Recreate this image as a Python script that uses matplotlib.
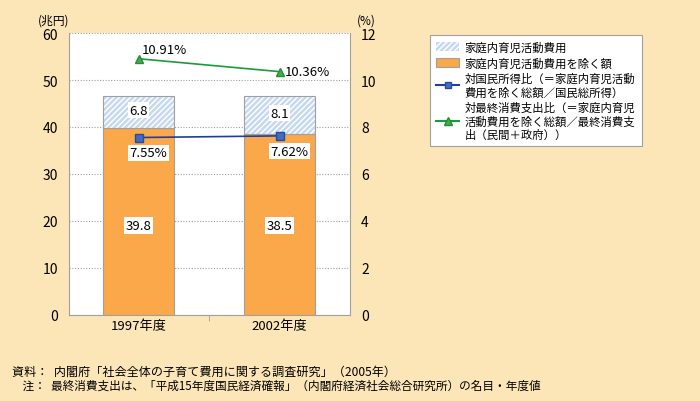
import numpy as np
import matplotlib.pyplot as plt
from matplotlib.patches import Patch
from matplotlib.lines import Line2D

plt.rcParams['font.family'] = ['Noto Sans CJK JP', 'DejaVu Sans']
plt.rcParams['hatch.linewidth'] = 1.0

# data
years = ['1997年度', '2002年度']
excl = [39.8, 38.5]        # 家庭内育児活動費用を除く額
home = [6.8, 8.1]          # 家庭内育児活動費用
ratio_ni = [7.55, 7.62]    # 対国民所得比
ratio_fc = [10.91, 10.36]  # 対最終消費支出比

bg = '#FCE6B8'
orange = '#FBA84A'
lblue = '#C6D9F0'
fig = plt.figure(figsize=(7, 4.02), dpi=100, facecolor=bg)
ax = fig.add_axes([0.0986, 0.215, 0.4014, 0.700])
ax.set_facecolor('white')

x = np.arange(len(years))
w = 0.5
ax.bar(x, excl, w, color=orange, edgecolor='#A0A0A0', linewidth=0.8, zorder=3)
ax.bar(x, home, w, bottom=excl, color=lblue, edgecolor='white', linewidth=0,
       hatch='//////', zorder=3)
ax.bar(x, home, w, bottom=excl, fill=False, edgecolor='#A0A0A0', linewidth=0.8, zorder=4)

box = dict(facecolor='white', edgecolor='none', pad=1.2)
for i in range(len(x)):
    ax.text(x[i], 19, f'{excl[i]}', ha='center', va='center', fontsize=9.5, bbox=box, zorder=6)
    ax.text(x[i], excl[i] + home[i] / 2 + 0.4, f'{home[i]}', ha='center', va='center',
            fontsize=9.5, bbox=box, zorder=6)

ax.set_xlim(-0.493, 1.5)
ax.set_ylim(0, 60)
ax.set_yticks(range(0, 61, 10))
ax.set_xticks(x)
ax.set_xticklabels(years, fontsize=9.5)
ax.set_xticks([0.5], minor=True)
ax.tick_params(axis='x', which='major', length=0, pad=3)
ax.tick_params(axis='x', which='minor', length=4, color='#A0A0A0')
ax.tick_params(axis='y', length=0, labelsize=10, pad=8)
ax.grid(axis='y', color='#A0A0A0', linestyle=(0, (1, 1.5)), linewidth=0.8, zorder=0)
for s in ['left', 'right', 'bottom']:
    ax.spines[s].set_color('#A0A0A0')
ax.spines['top'].set_visible(False)

ax2 = ax.twinx()
ax2.set_ylim(0, 12)
ax2.set_yticks(range(0, 13, 2))
ax2.tick_params(axis='y', length=0, labelsize=10, pad=8)
for s in ax2.spines.values():
    s.set_visible(False)
ax2.plot(x, ratio_ni, color='#1F3F9A', linewidth=1.2, marker='s', markersize=5.5,
         markerfacecolor='#3E6EC2', markeredgecolor='#2A4B9A', zorder=5)
ax2.plot(x, ratio_fc, color='#1E9A3C', linewidth=1.2, marker='^', markersize=6,
         markerfacecolor='#3CB04C', markeredgecolor='#2A8A3A', zorder=5)

ax2.text(x[0] + 0.02, ratio_fc[0] + 0.12, f'{ratio_fc[0]:.2f}%', ha='left', va='bottom', fontsize=9.5)
ax2.text(x[1] + 0.04, ratio_fc[1], f'{ratio_fc[1]:.2f}%', ha='left', va='center', fontsize=9.5)
ax2.text(x[0] + 0.07, ratio_ni[0] - 0.65, f'{ratio_ni[0]:.2f}%', ha='center', va='center',
         fontsize=9.5, bbox=box, zorder=6)
ax2.text(x[1] + 0.07, ratio_ni[1] - 0.65, f'{ratio_ni[1]:.2f}%', ha='center', va='center',
         fontsize=9.5, bbox=box, zorder=6)

fig.text(0.076, 0.948, '(兆円)', fontsize=8.5, ha='center', va='center')
fig.text(0.523, 0.948, '(%)', fontsize=8.5, ha='center', va='center')

handles = [
    Patch(facecolor=lblue, edgecolor='white', hatch='//////', linewidth=0),
    Patch(facecolor=orange, edgecolor='#A0A0A0', linewidth=0.8),
    Line2D([], [], color='#1F3F9A', marker='s', markersize=5,
           markerfacecolor='#3E6EC2', markeredgecolor='#2A4B9A'),
    Line2D([], [], color='#1E9A3C', marker='^', markersize=6,
           markerfacecolor='#3CB04C', markeredgecolor='#2A8A3A'),
]
labels = [
    '家庭内育児活動費用',
    '家庭内育児活動費用を除く額',
    '対国民所得比（＝家庭内育児活動\n費用を除く総額／国民総所得）',
    '対最終消費支出比（＝家庭内育児\n活動費用を除く総額／最終消費支\n出（民間＋政府））',
]
leg = fig.legend(handles, labels, loc='upper left', bbox_to_anchor=(0.606, 0.924),
                 fontsize=8.2, frameon=True, fancybox=False, framealpha=1, handlelength=2.0,
                 handleheight=0.8, labelspacing=0.38, borderpad=0.55, handletextpad=0.5)
leg.get_frame().set_edgecolor('#A0A0A0')
leg.get_frame().set_facecolor('white')
leg.get_frame().set_linewidth(0.8)
for t in leg.get_texts():
    t.set_linespacing(1.25)

fig.text(0.017, 0.075, '資料：  内閣府「社会全体の子育て費用に関する調査研究」（2005年）', fontsize=8.7, va='center')
fig.text(0.017, 0.040, '    注：  最終消費支出は、「平成15年度国民経済確報」（内閣府経済社会総合研究所）の名目・年度値',
         fontsize=8.4, va='center')

fig.savefig('out.png', dpi=100, facecolor=bg)
